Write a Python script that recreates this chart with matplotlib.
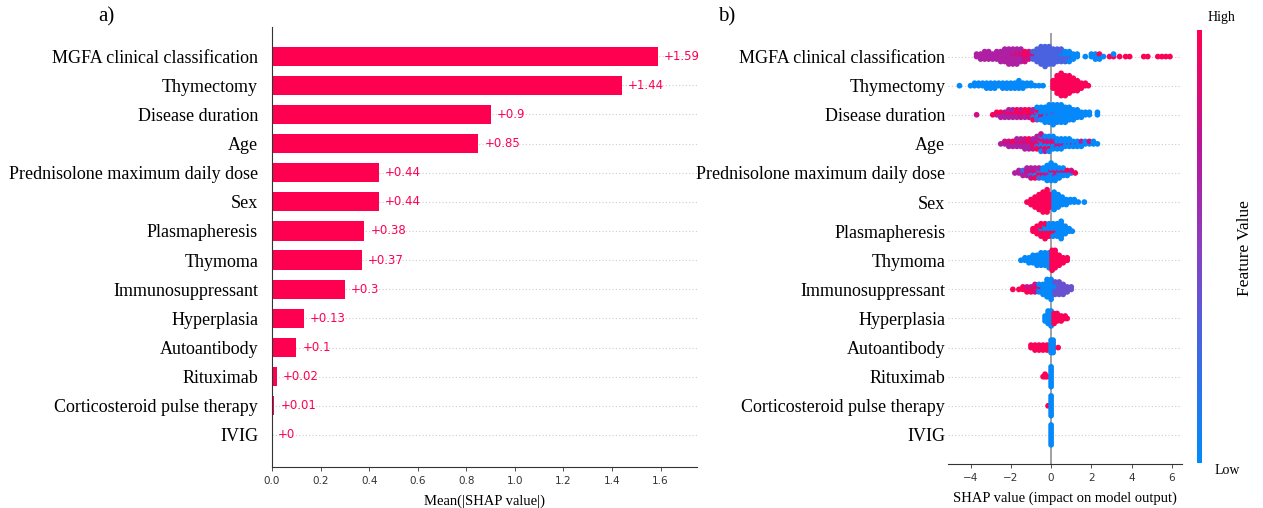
import numpy as np
import matplotlib.pyplot as plt
from matplotlib.colors import LinearSegmentedColormap
from matplotlib.colorbar import ColorbarBase

plt.rcParams['font.family'] = 'DejaVu Sans'
SERIF = 'Liberation Serif'

FEATURES = [
    "MGFA clinical classification", "Thymectomy", "Disease duration", "Age",
    "Prednisolone maximum daily dose", "Sex", "Plasmapheresis", "Thymoma",
    "Immunosuppressant", "Hyperplasia", "Autoantibody", "Rituximab",
    "Corticosteroid pulse therapy", "IVIG",
]
MEAN_ABS_SHAP = [1.59, 1.44, 0.9, 0.85, 0.44, 0.44, 0.38, 0.37, 0.3, 0.13, 0.1, 0.02, 0.01, 0]

# beeswarm rows: (shap value, number of samples, feature value 0=low .. 1=high)
B, S, V, P, M, R = 0.02, 0.3, 0.4, 0.67, 0.8, 0.98
MGFA = [(-3.7, 2, P), (-3.5, 3, P), (-3.3, 4, P), (-3.1, 4, P), (-2.9, 3, P), (-2.7, 4, P),
        (-2.5, 5, P), (-2.3, 6, P), (-2.1, 7, P), (-1.9, 6, P), (-1.9, 1, M), (-1.7, 5, P),
        (-1.7, 2, M), (-1.5, 4, P), (-1.5, 2, M), (-1.3, 3, M), (-1.3, 2, R), (-1.1, 3, M),
        (-1.1, 1, R), (-0.9, 3, S), (-0.9, 1, M), (-0.7, 6, S), (-0.5, 8, S), (-0.3, 9, S),
        (-0.1, 8, S), (0.1, 7, S), (0.3, 6, S), (0.5, 5, S), (0.5, 1, B), (0.7, 3, S),
        (0.7, 2, B), (0.9, 2, S), (0.9, 3, B), (1.1, 3, B), (1.3, 2, B), (1.7, 1, B),
        (2.0, 2, B), (2.2, 3, B), (2.4, 2, B), (2.4, 1, R), (2.6, 1, B), (2.9, 1, R),
        (3.1, 1, R), (3.1, 1, B), (3.4, 1, R), (3.7, 1, R), (3.9, 1, R), (4.6, 1, R),
        (4.8, 1, R), (5.3, 1, R), (5.5, 1, R), (5.7, 1, R), (5.9, 1, R)]
THYMECTOMY = [(-4.55, 1, B), (-4.0, 1, B), (-3.8, 2, B), (-3.6, 2, B), (-3.4, 2, B),
              (-3.2, 3, B), (-3.0, 3, B), (-2.8, 3, B), (-2.6, 2, B), (-2.4, 3, B),
              (-2.2, 3, B), (-2.0, 3, B), (-1.8, 3, B), (-1.6, 4, B), (-1.4, 3, B),
              (-1.2, 2, B), (-1.0, 2, B), (-0.8, 1, B), (-0.6, 1, B), (-0.4, 1, B),
              (0.1, 4, R), (0.3, 8, R), (0.5, 10, R), (0.7, 9, R), (0.9, 8, R), (1.1, 6, R),
              (1.3, 5, R), (1.5, 3, R), (1.7, 2, R), (1.85, 1, R)]
DURATION = [(-3.7, 1, M), (-2.9, 1, R), (-2.7, 1, P), (-2.7, 1, R), (-2.5, 2, P), (-2.5, 1, R),
            (-2.3, 2, P), (-2.3, 1, M), (-2.1, 3, P), (-2.1, 1, R), (-1.9, 3, P), (-1.9, 1, R),
            (-1.7, 2, P), (-1.7, 2, R), (-1.5, 3, M), (-1.5, 1, R), (-1.3, 2, P), (-1.3, 2, R),
            (-1.1, 2, M), (-1.1, 2, R), (-0.9, 2, P), (-0.9, 2, R), (-0.9, 1, B), (-0.7, 2, R),
            (-0.7, 2, S), (-0.7, 2, B), (-0.5, 2, M), (-0.5, 4, B), (-0.3, 1, R), (-0.3, 6, B),
            (-0.1, 1, P), (-0.1, 7, B), (0.1, 8, B), (0.1, 1, S), (0.3, 8, B), (0.5, 8, B),
            (0.7, 7, B), (0.9, 6, B), (1.1, 5, B), (1.3, 4, B), (1.5, 3, B), (1.7, 2, B),
            (1.9, 2, B), (2.3, 2, B)]
AGE = [(-2.5, 1, P), (-2.3, 1, P), (-2.3, 1, M), (-2.1, 2, P), (-2.1, 1, M), (-1.9, 2, P),
       (-1.9, 1, R), (-1.7, 3, P), (-1.7, 1, M), (-1.5, 3, P), (-1.5, 1, R), (-1.3, 3, P),
       (-1.3, 2, M), (-1.1, 3, P), (-1.1, 2, R), (-0.9, 2, P), (-0.9, 2, M), (-0.9, 1, R),
       (-0.7, 3, P), (-0.7, 2, R), (-0.7, 1, S), (-0.5, 3, M), (-0.5, 2, S), (-0.5, 2, B),
       (-0.5, 1, R), (-0.3, 3, P), (-0.3, 2, R), (-0.3, 2, B), (-0.1, 2, P), (-0.1, 2, R),
       (-0.1, 3, B), (0.1, 2, P), (0.1, 1, R), (0.1, 3, B), (0.3, 2, M), (0.3, 3, B),
       (0.5, 2, P), (0.5, 3, B), (0.7, 1, M), (0.7, 3, B), (0.9, 1, P), (0.9, 3, B),
       (1.1, 1, R), (1.1, 2, B), (1.3, 1, P), (1.3, 2, B), (1.5, 2, B), (1.5, 1, P),
       (1.7, 2, B), (1.9, 1, B), (1.9, 1, M), (2.1, 2, B), (2.3, 1, B)]
PREDNISOLONE = [(-1.8, 1, P), (-1.6, 2, P), (-1.4, 2, P), (-1.4, 1, S), (-1.2, 3, P),
                (-1.2, 1, M), (-1.0, 2, P), (-1.0, 2, M), (-1.0, 1, S), (-0.8, 2, P),
                (-0.8, 2, R), (-0.8, 1, B), (-0.6, 2, P), (-0.6, 2, S), (-0.6, 1, R),
                (-0.4, 2, M), (-0.4, 3, B), (-0.2, 1, R), (-0.2, 5, B), (-0.2, 1, P),
                (0.0, 7, B), (0.0, 1, M), (0.2, 5, B), (0.2, 1, R), (0.2, 1, P), (0.4, 4, B),
                (0.4, 1, P), (0.6, 3, B), (0.6, 1, M), (0.8, 2, B), (0.8, 1, R), (1.0, 1, B),
                (1.0, 1, M), (1.2, 1, R)]
SEX = [(-1.2, 1, R), (-1.0, 3, R), (-0.8, 5, R), (-0.6, 7, R), (-0.4, 9, R), (-0.2, 10, R),
       (-0.05, 6, R), (0.15, 8, B), (0.35, 6, B), (0.55, 4, B), (0.75, 3, B), (0.95, 2, B),
       (1.15, 2, B), (1.35, 1, B), (1.65, 1, B)]
PLASMAPHERESIS = [(-0.9, 2, R), (-0.7, 4, R), (-0.5, 5, R), (-0.5, 1, B), (-0.3, 5, R),
                  (-0.3, 2, B), (-0.1, 3, R), (-0.1, 3, B), (0.1, 2, R), (0.1, 4, B),
                  (0.3, 1, R), (0.3, 5, B), (0.5, 8, B), (0.7, 4, B), (0.9, 2, B), (1.05, 1, B)]
THYMOMA = [(-1.5, 1, B), (-1.3, 2, B), (-1.1, 3, B), (-0.9, 4, B), (-0.7, 5, B), (-0.5, 6, B),
           (-0.3, 6, B), (-0.1, 7, B), (0.05, 9, R), (0.2, 8, R), (0.4, 5, R), (0.6, 3, R),
           (0.8, 2, R)]
IMMUNOSUPPRESSANT = [(-1.9, 1, R), (-1.6, 1, R), (-1.4, 2, R), (-1.2, 2, R), (-1.2, 1, M),
                     (-1.0, 2, R), (-1.0, 1, M), (-0.8, 3, M), (-0.8, 1, R), (-0.6, 3, B),
                     (-0.6, 1, M), (-0.4, 5, B), (-0.2, 8, B), (0.0, 9, B), (0.2, 4, V),
                     (0.2, 2, B), (0.4, 6, V), (0.6, 5, V), (0.8, 3, V), (1.0, 2, V)]
HYPERPLASIA = [(-0.3, 3, B), (-0.15, 6, B), (0.0, 7, B), (0.15, 5, R), (0.3, 4, R),
               (0.5, 3, R), (0.7, 2, R), (0.8, 1, R)]
AUTOANTIBODY = [(-1.0, 2, R), (-0.8, 3, R), (-0.6, 3, R), (-0.4, 3, R), (-0.2, 3, R),
                (0.0, 6, B), (0.1, 6, B), (0.35, 1, R)]
RITUXIMAB = [(-0.4, 1, R), (-0.3, 2, R), (-0.2, 1, R), (0.0, 9, B)]
CORTICOSTEROID = [(-0.15, 1, R), (0.0, 9, B)]
IVIG = [(0.0, 9, B)]

ROWS = [MGFA, THYMECTOMY, DURATION, AGE, PREDNISOLONE, SEX, PLASMAPHERESIS, THYMOMA,
        IMMUNOSUPPRESSANT, HYPERPLASIA, AUTOANTIBODY, RITUXIMAB, CORTICOSTEROID, IVIG]

SHAP_RED = '#ff0051'
red_blue = LinearSegmentedColormap.from_list(
    'red_blue', [(0.0, '#008bfb'), (0.3, '#4a62e0'), (0.5, '#8a3fc0'),
                 (0.72, '#b8169a'), (1.0, '#ff0052')])


def swarm(groups, y0, gap=0.085):
    bins = {}
    for x, n, c in groups:
        bins.setdefault(x, []).append([c] * n)
    xs, ys, cs = [], [], []
    for x, lists in bins.items():
        # interleave colours so mixed bins look mixed
        cols = []
        while any(lists):
            for l in lists:
                if l:
                    cols.append(l.pop())
        for j, c in enumerate(cols):
            off = ((j + 1) // 2) * (1 if j % 2 else -1)
            xs.append(x)
            ys.append(y0 + off * gap)
            cs.append(c)
    return np.array(xs), np.array(ys), np.array(cs)


W, H = 1263, 508
fig = plt.figure(figsize=(W / 100, H / 100), dpi=100)
n = len(FEATURES)
ypos = np.arange(n)[::-1]

# ---- a) mean |SHAP| bars
ax1 = fig.add_axes([272 / W, (H - 467) / H, 425 / W, 440 / H])
for y in ypos:
    ax1.axhline(y, color='#cccccc', lw=0.8, ls=(0, (1, 2)), zorder=-1)
ax1.barh(ypos, MEAN_ABS_SHAP, height=0.66, color=SHAP_RED, zorder=2)
for y, v in zip(ypos, MEAN_ABS_SHAP):
    ax1.text(v + 0.025, y, f"+{v:g}", color=SHAP_RED, fontsize=8.5,
             va='center', ha='left', zorder=3)
ax1.set_xlim(0, 1.75)
ax1.set_ylim(-1.1, 14.0)
ax1.set_yticks(ypos)
ax1.set_yticklabels(FEATURES, family=SERIF, fontsize=13)
ax1.tick_params(axis='y', length=0, pad=10)
ax1.set_xticks(np.arange(0, 1.61, 0.2))
ax1.tick_params(axis='x', labelsize=7.5, colors='#333333', length=3, width=0.6)
ax1.set_xlabel("Mean(|SHAP value|)", family=SERIF, fontsize=10.5, labelpad=6)
for s in ('top', 'right'):
    ax1.spines[s].set_visible(False)
ax1.spines['left'].set_color('#333333')
ax1.spines['bottom'].set_color('#333333')

# ---- b) beeswarm
ax2 = fig.add_axes([948 / W, (H - 464) / H, 234 / W, 431 / H])
ax2.axvline(0, color='#999999', lw=1.3, zorder=1)
for y, row in zip(ypos, ROWS):
    ax2.axhline(y, color='#cccccc', lw=0.8, ls=(0, (1, 2)), zorder=0)
    xs, ys, cs = swarm(row, y)
    ax2.scatter(xs, ys, c=red_blue(cs), s=17, linewidths=0, zorder=3)
ax2.set_xlim(-5.12, 6.5)
ax2.set_ylim(-1.0, 13.81)
ax2.set_yticks(ypos)
ax2.set_yticklabels(FEATURES, family=SERIF, fontsize=13)
ax2.tick_params(axis='y', length=0, pad=2)
ax2.set_xticks([-4, -2, 0, 2, 4, 6])
ax2.tick_params(axis='x', labelsize=7.5, colors='#333333', length=3, width=0.6)
ax2.set_xlabel("SHAP value (impact on model output)", family=SERIF, fontsize=10.5, labelpad=6)
for s in ('top', 'right', 'left'):
    ax2.spines[s].set_visible(False)
ax2.spines['bottom'].set_color('#333333')

# colour bar
cax = fig.add_axes([1197 / W, (H - 463) / H, 5 / W, 433 / H])
cb = ColorbarBase(cax, cmap=red_blue, orientation='vertical')
cb.outline.set_visible(False)
cb.set_ticks([])
fig.text(1221 / W, 1 - 18 / H, "High", family=SERIF, fontsize=10, ha='center', va='center')
fig.text(1227 / W, 1 - 470 / H, "Low", family=SERIF, fontsize=10, ha='center', va='center')
fig.text(1245 / W, 1 - 248 / H, "Feature Value", family=SERIF, fontsize=12.5,
         rotation=90, ha='center', va='center')

fig.text(106 / W, 1 - 17 / H, "a)", family=SERIF, fontsize=15, ha='center', va='center')
fig.text(727 / W, 1 - 17 / H, "b)", family=SERIF, fontsize=15, ha='center', va='center')

fig.savefig("out.png", dpi=100, facecolor='white')
